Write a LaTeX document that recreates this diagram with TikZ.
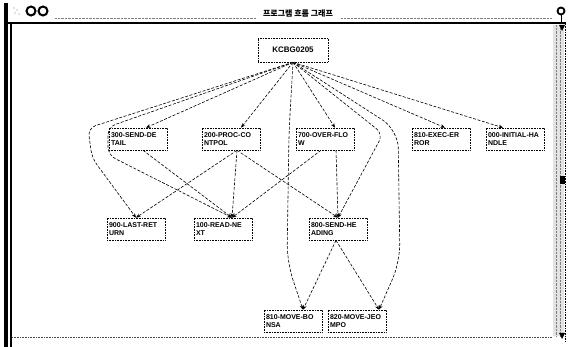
\documentclass[tikz,border=0pt]{standalone}
\usepackage{fontspec}
\setmainfont{Liberation Sans}
\newfontfamily\krfont{Noto Sans CJK KR}
\usetikzlibrary{arrows.meta,calc}
\begin{document}
\begin{tikzpicture}[x=1pt,y=-1pt,
  box/.style={draw, densely dotted, line width=0.6pt, font=\bfseries\fontsize{7}{7.6}\selectfont,
    text width=54pt, align=left, inner sep=2pt, minimum height=22pt},
  edge/.style={dash pattern=on 3pt off 1.6pt, line width=0.6pt,
    -{Stealth[length=4.5pt,width=3.6pt]}, rounded corners=8pt},
  curveedge/.style={edge, rounded corners=18pt}
]
\useasboundingbox (0,0) rectangle (571,347);

% ---- window chrome ----
\fill (4,3) rectangle (8,347);
\draw[line width=1.6pt] (11,24) -- (11,347);
\draw[line width=2pt] (8,23) -- (566,23);
\draw[gray, densely dotted] (55,18) -- (256,18);
\draw[gray, densely dotted] (341,18) -- (552,18);
\node[font=\krfont\bfseries\fontsize{8}{8}\selectfont, inner sep=0pt] (title) at (298,14) {프로그램 흐름 그래프};
\draw[line width=2pt] (31,11) circle (4.5);
\draw[line width=2pt] (43,11) circle (4.5);
\fill[gray] (14,8) circle (0.6) (17,10) circle (0.6) (15,13) circle (0.6) (19,14) circle (0.6);
\draw[line width=1.8pt] (561,11) circle (3.5);
\draw[line width=1pt] (561,15) -- (561,23);
\fill[gray!22] (553,25) rectangle (564,336);
\draw[gray, densely dotted] (556,25) -- (556,336);
\draw[gray, densely dotted] (560,25) -- (560,336);
\draw[densely dotted, line width=0.6pt] (565,24) -- (565,342);
\fill (559,25) -- (565,25) -- (562,31) -- cycle;
\fill (559,333) -- (565,333) -- (562,339) -- cycle;
\fill (560,176) rectangle (565,184);
\draw[densely dotted, line width=0.6pt, gray!60!black] (12,337) -- (552,337);

% ---- nodes ----
\node[draw, densely dotted, line width=0.6pt, font=\bfseries\fontsize{8}{8}\selectfont,
  minimum width=70pt, minimum height=24pt, inner sep=2pt] (K) at (293,50) {KCBG0205};
\node[box] (n300)  at (138,139) {300-SEND-DE\\TAIL};
\node[box] (n200)  at (231,139) {200-PROC-CO\\NTPOL};
\node[box] (n700)  at (325,139) {700-OVER-FLO\\W};
\node[box] (n810e) at (441,139) {810-EXEC-ER\\ROR};
\node[box] (n000)  at (515,139) {000-INITIAL-HA\\NDLE};
\node[box] (n900)  at (136,229) {900-LAST-RET\\URN};
\node[box] (n100)  at (223,229) {100-READ-NE\\XT};
\node[box] (n800)  at (338,229) {800-SEND-HE\\ADING};
\node[box] (n810m) at (293,321) {810-MOVE-BO\\NSA};
\node[box] (n820m) at (357,321) {820-MOVE-JEO\\MPO};

% ---- edges from KCBG0205 ----
\draw[edge] (K.south) -- (88,128) -- (92,158) -- (n900.north);
\draw[edge] (K.south) -- (108,127) -- (108,155) -- ([xshift=9pt]n100.north);
\draw[edge] (K.south) -- ([xshift=8pt]n300.north);
\draw[edge] (K.south) -- ([xshift=10pt]n200.north);
\draw[curveedge] (K.south) -- (289,132) -- (287,262) -- ([xshift=10pt]n810m.north);
\draw[edge] (K.south) -- ([xshift=10pt]n700.north);
\draw[edge] (K.south) -- (383,134) -- (n800.north);
\draw[curveedge] (K.south) -- (398,130) -- (400,262) -- ([xshift=22pt]n820m.north);
\draw[edge] (K.south) -- ([xshift=4pt]n810e.north);
\draw[edge] (K.south) -- ([xshift=-12pt]n000.north);

% ---- other edges ----
\draw[edge] ([xshift=5pt]n300.south) -- ([xshift=9pt]n100.north);
\draw[edge] ([xshift=6pt]n200.south) -- (n900.north);
\draw[edge] ([xshift=6pt]n200.south) -- ([xshift=9pt]n100.north);
\draw[edge] ([xshift=6pt]n200.south) -- (n800.north);
\draw[edge] ([xshift=-4pt]n700.south) -- ([xshift=9pt]n100.north);
\draw[edge] ([xshift=11pt]n700.south) -- (n800.north);
\draw[edge] ([xshift=-2pt]n800.south) -- ([xshift=10pt]n810m.north);
\draw[edge] ([xshift=-2pt]n800.south) -- ([xshift=22pt]n820m.north);
\end{tikzpicture}
\end{document}
